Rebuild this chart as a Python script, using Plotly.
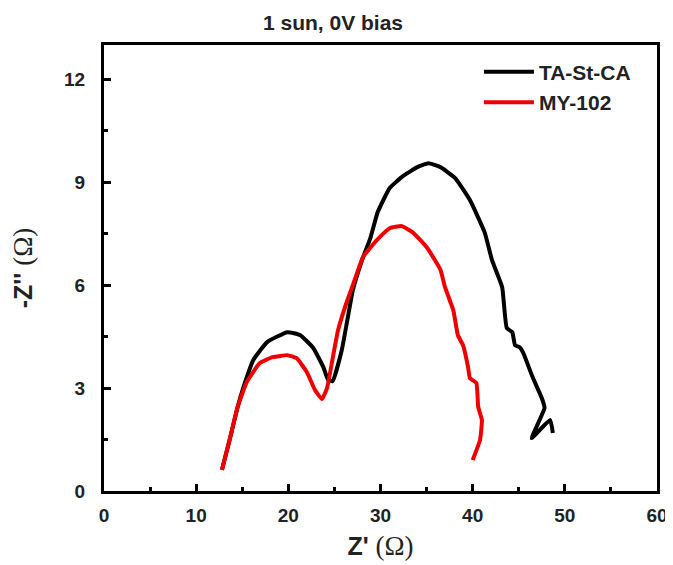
import plotly.graph_objects as go

# TA-St-CA (black)
ta_x = [12.8, 13.7, 14.5, 15.1, 16.2, 17.7, 19.9, 21.3, 22.7, 23.8, 24.3, 24.8,
        25.8, 26.4, 27.0, 28.0, 28.9, 29.7, 31.0, 32.3, 34.0, 35.2, 36.5, 38.1,
        39.7, 41.3, 42.1, 43.2, 43.7, 44.3, 44.6, 45.1, 45.5, 46.5, 47.5, 47.8,
        46.4, 48.4, 48.7]
ta_y = [0.62, 1.57, 2.45, 3.0, 3.82, 4.34, 4.63, 4.54, 4.17, 3.61, 3.25, 3.2,
        4.11, 4.98, 5.85, 6.73, 7.37, 8.13, 8.83, 9.15, 9.44, 9.55, 9.44, 9.12,
        8.48, 7.54, 6.73, 5.94, 4.75, 4.63, 4.25, 4.19, 4.02, 3.32, 2.71, 2.42,
        1.54, 2.07, 1.69]

# MY-102 (red)
my_x = [12.8, 13.7, 14.5, 15.5, 16.9, 18.3, 19.9, 20.9, 22.0, 22.9, 23.65, 24.2,
        24.8, 25.4, 26.4, 27.2, 28.1, 29.6, 31.0, 32.3, 33.5, 35.0, 36.5, 37.0,
        37.9, 38.4, 38.95, 39.5, 39.7, 40.4, 40.6, 41.0, 40.8, 40.0]
my_y = [0.61, 1.57, 2.45, 3.18, 3.73, 3.90, 3.96, 3.87, 3.47, 2.94, 2.68, 3.0,
        3.85, 4.69, 5.56, 6.15, 6.82, 7.31, 7.66, 7.72, 7.54, 7.11, 6.45, 5.94,
        5.27, 4.54, 4.25, 3.61, 3.29, 3.15, 2.45, 2.07, 1.49, 0.90]

x_ticks = [0, 10, 20, 30, 40, 50, 60]
y_ticks = [0, 3, 6, 9, 12]

FONT = "Liberation Sans, Arial, sans-serif"
W, H = 665, 557  # page body has an 8px margin

OMEGA = "<span style='font-family:Liberation Serif;font-size:27px'>(Ω)</span>"

fig = go.Figure()
fig.add_trace(go.Scatter(x=ta_x, y=ta_y, mode="lines", name="TA-St-CA",
                         line=dict(color="#000000", width=4, shape="spline", smoothing=0.4)))
fig.add_trace(go.Scatter(x=my_x, y=my_y, mode="lines", name="MY-102",
                         line=dict(color="#ee0000", width=4, shape="spline", smoothing=0.4)))

axis_common = dict(
    showline=True, linecolor="black", linewidth=3, mirror=True,
    ticks="inside", ticklen=7, tickwidth=3, tickcolor="black",
    showgrid=False, zeroline=False,
    tickfont=dict(family=FONT, size=19, color="#222222", weight="bold"),
)

fig.update_xaxes(range=[0, 60], tickvals=x_ticks, ticklabelstandoff=5,
                 minor=dict(ticks="inside", ticklen=4, tickwidth=3, dtick=5, tickcolor="black"),
                 title=dict(text="<b>Z'</b> " + OMEGA, font=dict(family=FONT, size=25, color="#222222"),
                            standoff=13),
                 **axis_common)
fig.update_yaxes(range=[0, 13], tickvals=y_ticks, ticklabelstandoff=12,
                 minor=dict(ticks="inside", ticklen=4, tickwidth=3, dtick=1.5, tickcolor="black"),
                 title=dict(text="<b>-Z''</b> " + OMEGA, font=dict(family=FONT, size=25, color="#222222"),
                            standoff=36),
                 **axis_common)

fig.update_layout(
    width=W, height=H,
    margin=dict(l=96, r=16, t=37, b=74, autoexpand=False),
    paper_bgcolor="white", plot_bgcolor="white",
    title=dict(text="<b>1 sun, 0V bias</b>", x=325 / W, xanchor="center",
               y=1 - 15 / H, yanchor="middle", yref="container",
               font=dict(family=FONT, size=21, color="#222222")),
    legend=dict(x=0.678, y=0.985, xanchor="left", yanchor="top",
                bgcolor="rgba(0,0,0,0)", borderwidth=0, itemwidth=50,
                font=dict(family=FONT, size=21, color="#222222", weight="bold")),
)

fig.write_html("out.html")
